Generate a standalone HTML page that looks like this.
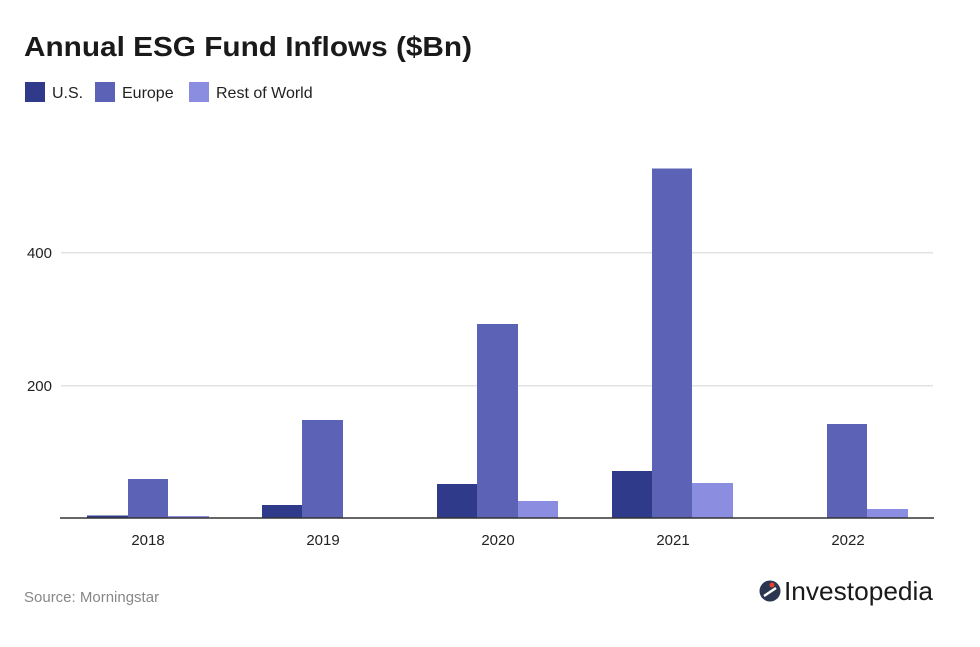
<!DOCTYPE html>
<html><head><meta charset="utf-8"><style>
html,body{margin:0;padding:0;background:#fff;}
svg{display:block;font-family:"Liberation Sans",sans-serif;}
</style></head><body>
<svg width="980" height="647" viewBox="0 0 980 647" xmlns="http://www.w3.org/2000/svg">
<rect width="980" height="647" fill="#fff"/>
<text x="24" y="56" font-size="28" font-weight="bold" fill="#1a1a1a" textLength="448" lengthAdjust="spacingAndGlyphs">Annual ESG Fund Inflows ($Bn)</text>
<rect x="25" y="82" width="20" height="20" fill="#2f3a8a"/>
<text x="52" y="98" font-size="16" fill="#222">U.S.</text>
<rect x="95" y="82" width="20" height="20" fill="#5c63b6"/>
<text x="122" y="98" font-size="16" fill="#222">Europe</text>
<rect x="189" y="82" width="20" height="20" fill="#8a8de0"/>
<text x="216" y="98" font-size="16" fill="#222">Rest of World</text>
<g stroke="#e3e3e6" stroke-width="1.5">
<line x1="61" y1="252.7" x2="933" y2="252.7"/>
<line x1="61" y1="385.7" x2="933" y2="385.7"/>
</g>
<g font-size="15" fill="#222" text-anchor="end">
<text x="52" y="258">400</text>
<text x="52" y="391">200</text>
</g>
<g>
<rect x="87" y="515.5" width="41" height="2.5" fill="#2f3a8a"/>
<rect x="128" y="479" width="40" height="39" fill="#5c63b6"/>
<rect x="168" y="516" width="41" height="2" fill="#8a8de0"/>
<rect x="262" y="505" width="40" height="13" fill="#2f3a8a"/>
<rect x="302" y="420" width="41" height="98" fill="#5c63b6"/>
<rect x="437" y="484" width="40" height="34" fill="#2f3a8a"/>
<rect x="477" y="324" width="41" height="194" fill="#5c63b6"/>
<rect x="518" y="501" width="40" height="17" fill="#8a8de0"/>
<rect x="612" y="471" width="40" height="47" fill="#2f3a8a"/>
<rect x="652" y="168.5" width="40" height="349.5" fill="#5c63b6"/>
<rect x="692" y="483" width="41" height="35" fill="#8a8de0"/>
<rect x="827" y="424" width="40" height="94" fill="#5c63b6"/>
<rect x="867" y="509" width="41" height="9" fill="#8a8de0"/>
</g>
<line x1="60" y1="518" x2="934" y2="518" stroke="#333" stroke-width="1.5"/>
<g font-size="15" fill="#222" text-anchor="middle">
<text x="148" y="545">2018</text>
<text x="323" y="545">2019</text>
<text x="498" y="545">2020</text>
<text x="673" y="545">2021</text>
<text x="848" y="545">2022</text>
</g>
<text x="24" y="602" font-size="15" fill="#888">Source: Morningstar</text>
<circle cx="770" cy="591" r="10.5" fill="#2a3550"/>
<circle cx="772" cy="585" r="2.5" fill="#e8412c"/>
<path d="M764 596 L776 588" stroke="#fff" stroke-width="2.5"/>
<text x="784" y="600" font-size="26" fill="#1a1a1a" textLength="149" lengthAdjust="spacingAndGlyphs">Investopedia</text>
</svg>
</body></html>
